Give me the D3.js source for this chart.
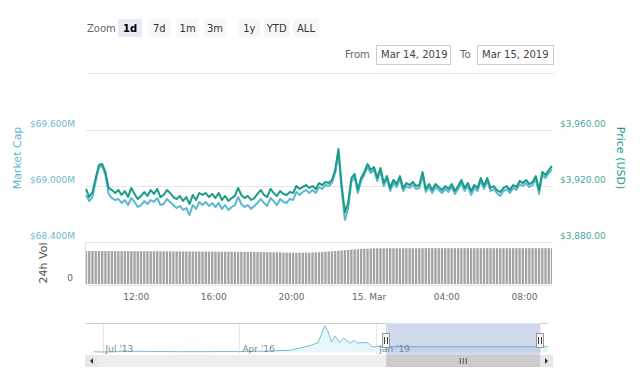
<!DOCTYPE html>
<html><head><meta charset="utf-8">
<script src="https://cdn.jsdelivr.net/npm/d3@7"></script>
<style>body{margin:0;background:#fff;} svg{display:block;font-family:"DejaVu Sans",Verdana,sans-serif;}</style>
</head><body><svg id="c" width="640" height="380"></svg>
<script>
// ---------- data ----------
const startTime = Date.UTC(2019, 2, 14, 9, 25);
const stepMinutes = 10;
const priceUSD = [3917.9,3912.1,3915.7,3925.7,3935.0,3935.7,3930.0,3918.6,3917.1,3915.0,
 3917.1,3913.6,3916.4,3912.1,3918.6,3914.3,3910.7,3912.9,3915.7,3912.9,
 3917.1,3914.3,3917.9,3912.1,3913.6,3917.1,3915.0,3912.1,3910.7,3912.9,
 3909.3,3912.1,3907.1,3913.6,3910.0,3915.0,3913.6,3915.0,3912.1,3914.3,
 3911.4,3915.0,3910.0,3912.9,3909.3,3911.4,3912.9,3918.6,3913.6,3911.4,
 3912.9,3910.0,3911.4,3914.3,3917.1,3913.6,3912.1,3917.9,3915.0,3912.9,
 3916.4,3914.3,3913.6,3915.7,3915.0,3920.0,3917.9,3919.3,3920.7,3918.6,
 3920.0,3917.9,3922.1,3920.7,3922.9,3922.1,3924.3,3931.4,3946.4,3920.7,
 3901.4,3907.9,3925.7,3928.6,3917.1,3925.7,3930.0,3935.7,3931.4,3933.6,
 3925.7,3932.9,3922.1,3927.1,3918.6,3924.3,3921.4,3927.1,3918.6,3922.1,
 3920.7,3922.9,3920.0,3920.7,3930.0,3917.9,3921.4,3917.1,3921.4,3919.3,
 3917.1,3920.0,3917.9,3921.4,3916.4,3920.0,3924.3,3918.6,3922.1,3916.4,
 3920.7,3918.6,3925.7,3920.0,3925.7,3918.6,3920.0,3917.1,3915.7,3918.6,
 3920.0,3917.1,3920.7,3919.3,3923.6,3922.1,3924.3,3921.4,3922.9,3927.1,
 3917.1,3930.0,3927.9,3931.4,3934.3];
const marketCapM = [68904,68839,68882,69054,69204,69214,69118,68914,68871,68850,
 68861,68818,68850,68796,68871,68829,68775,68796,68839,68807,
 68850,68829,68871,68796,68807,68861,68829,68796,68764,68786,
 68743,68764,68689,68796,68754,68829,68796,68829,68786,68818,
 68775,68818,68754,68796,68743,68775,68796,68882,68807,68775,
 68796,68754,68786,68818,68861,68818,68786,68871,68839,68796,
 68861,68829,68818,68861,68850,68936,68904,68936,68957,68925,
 68957,68925,68989,68968,69011,69000,69032,69139,69354,68957,
 68636,68754,69043,69096,68925,69054,69118,69204,69139,69171,
 69054,69161,69000,69075,68946,69032,68989,69075,68946,69000,
 68979,69011,68968,68979,69118,68936,68989,68925,68989,68957,
 68925,68968,68936,68989,68914,68968,69032,68946,69000,68904,
 68979,68946,69054,68968,69054,68946,68968,68925,68893,68946,
 68968,68925,68979,68957,69021,69000,69032,68989,69011,69075,
 68914,69118,69086,69139,69182];
const volumeM = [9420,9410,9430,9420,9400,9410,9420,9400,9390,9400,
 9390,9380,9390,9380,9370,9380,9370,9360,9370,9360,
 9350,9340,9350,9340,9330,9320,9330,9320,9310,9300,
 9300,9290,9280,9290,9280,9270,9260,9270,9260,9250,
 9240,9230,9220,9230,9220,9210,9200,9190,9180,9170,
 9160,9150,9140,9130,9120,9110,9100,9090,9080,9060,
 9040,8960,8950,8940,8940,8930,8940,8950,8960,8980,
 9010,9050,9100,9160,9220,9290,9360,9430,9510,9590,
 9670,9750,9830,9900,9960,10020,10070,10110,10150,10180,
 10200,10210,10220,10230,10230,10240,10240,10250,10250,10250,
 10250,10260,10250,10260,10250,10260,10260,10250,10260,10260,
 10260,10250,10260,10260,10250,10260,10250,10260,10260,10250,
 10260,10250,10260,10250,10260,10260,10250,10260,10250,10260,
 10260,10250,10260,10260,10250,10260,10250,10260,10260,10250,
 10260,10250,10260,10250,10260];
const priceTicks = [3880, 3920, 3960];
const capTicks = [68400, 69000, 69600];
const volTicks = [0];
const timeTicks = [Date.UTC(2019,2,14,12), Date.UTC(2019,2,14,16), Date.UTC(2019,2,14,20),
                   Date.UTC(2019,2,15,0), Date.UTC(2019,2,15,4), Date.UTC(2019,2,15,8)];
const timeTickLabels = ["12:00", "16:00", "20:00", "15. Mar", "04:00", "08:00"];
const zoomButtons = ["1d", "7d", "1m", "3m", "1y", "YTD", "ALL"];
const selectedZoom = "1d";
const fromLabel = "Mar 14, 2019", toLabel = "Mar 15, 2019";
// navigator: total market cap history (billions USD)
const navDates = ["2013-04-28","2013-07-01","2013-10-01","2013-12-01","2014-02-01","2014-06-01","2015-01-01",
 "2015-08-01","2016-01-01","2016-04-01","2016-10-01","2017-01-01","2017-04-01","2017-06-15","2017-09-01",
 "2017-11-01","2017-12-17","2018-01-10","2018-02-06","2018-03-05","2018-04-06","2018-05-05","2018-06-25",
 "2018-07-25","2018-08-15","2018-09-20","2018-11-01","2018-11-25","2018-12-15","2019-01-01","2019-03-15",
 "2020-01-01","2021-01-01","2022-06-15"];
const navCapB = [1.5,1.0,2,12,9,7,4,4,6,6.5,10,16,20,45,75,110,310,250,120,190,110,165,105,140,105,110,110,70,58,66,64,62,62,62];
const navTicks = ["2013-07-01","2016-04-01","2019-01-01"];
const navTickLabels = ["Jul '13", "Apr '16", "Jan '19"];
const navSelection = ["2019-03-14", "2022-04-20"];

// ---------- layout ----------
const svg = d3.select("#c");
const L = 86, R = 552;
const times = priceUSD.map((_, i) => new Date(startTime + i * stepMinutes * 60000));
const x = d3.scaleUtc().domain([times[0], times[times.length - 1]]).range([L, R]);
const yPrice = d3.scaleLinear().domain([3880, 3960]).range([242, 130]);
const yCap = d3.scaleLinear().domain([68400, 69600]).range([242, 130]);
const yVol = d3.scaleLinear().domain([0, 12000]).range([284, 242]);

const capFmt = v => "$" + d3.format(",")(v).replace(/,/g, ".") + "M";
const priceFmt = d3.format("$,.2f");

const cPrice = "#1d9a86", cCap = "#5cb8d2";

// ---------- range selector ----------
const rs = svg.append("g").attr("font-size", 10);
rs.append("text").attr("x", 87).attr("y", 32).attr("fill", "#666").text("Zoom");
const btnCenters = d3.scalePoint().domain(zoomButtons).range([130, 306]);
const btnW = {"1d": 24, "7d": 22, "1m": 22, "3m": 22, "1y": 22, "YTD": 26, "ALL": 26};
const btnAdj = {"1d": 0, "7d": 0, "1m": -1, "3m": -3, "1y": 2, "YTD": 0, "ALL": 0};
zoomButtons.forEach(b => {
  const cx = btnCenters(b) + btnAdj[b];
  rs.append("rect").attr("x", cx - btnW[b] / 2).attr("y", 19).attr("width", btnW[b]).attr("height", 18)
    .attr("fill", b === selectedZoom ? "#e6ebf5" : "#f7f7f7");
  rs.append("text").attr("x", cx).attr("y", 32).attr("text-anchor", "middle")
    .attr("fill", b === selectedZoom ? "#000" : "#333").attr("font-weight", b === selectedZoom ? "bold" : "normal").text(b);
});
rs.append("text").attr("x", 345).attr("y", 58).attr("fill", "#666").text("From");
rs.append("rect").attr("x", 376.5).attr("y", 45.5).attr("width", 74).attr("height", 19).attr("fill", "#fff").attr("stroke", "#ccc");
rs.append("text").attr("x", 381).attr("y", 58).attr("fill", "#444").text(fromLabel);
rs.append("text").attr("x", 460).attr("y", 58).attr("fill", "#666").text("To");
rs.append("rect").attr("x", 477.5).attr("y", 45.5).attr("width", 76).attr("height", 19).attr("fill", "#fff").attr("stroke", "#ccc");
rs.append("text").attr("x", 482).attr("y", 58).attr("fill", "#444").text(toLabel);
svg.append("line").attr("x1", 87).attr("x2", 555).attr("y1", 73.5).attr("y2", 73.5).attr("stroke", "#e6e6e6");

// ---------- grid ----------
svg.append("g").selectAll("line").data(priceTicks).join("line")
  .attr("x1", L).attr("x2", R).attr("y1", d => Math.round(yPrice(d)) + 0.5).attr("y2", d => Math.round(yPrice(d)) + 0.5)
  .attr("stroke", "#e6e6e6");

// ---------- axes labels ----------
const gl = svg.append("g").attr("font-size", 9);
gl.selectAll("text").data(capTicks).join("text")
  .attr("x", 75).attr("y", d => yCap(d) - 3).attr("text-anchor", "end").attr("fill", "#6fb6ce").text(capFmt);
const gr = svg.append("g").attr("font-size", 9);
gr.selectAll("text").data(priceTicks).join("text")
  .attr("x", 560).attr("y", d => yPrice(d) - 3).attr("fill", "#4aa596").text(priceFmt);
svg.append("text").attr("transform", "translate(21,158) rotate(-90)").attr("text-anchor", "middle")
  .attr("font-size", 11).attr("fill", "#5fb4d0").text("Market Cap");
svg.append("text").attr("transform", "translate(617,158) rotate(90)").attr("text-anchor", "middle")
  .attr("font-size", 11).attr("fill", "#1e9a86").text("Price (USD)");
svg.append("text").attr("transform", "translate(47,263) rotate(-90)").attr("text-anchor", "middle")
  .attr("font-size", 11).attr("fill", "#555").text("24h Vol");
svg.append("g").attr("font-size", 9).selectAll("text").data(volTicks).join("text")
  .attr("x", 73).attr("y", d => yVol(d) - 3).attr("text-anchor", "end").attr("fill", "#666").text(d => d);

// ---------- lines ----------
const capLine = d3.line().x((d, i) => x(times[i])).y(d => yCap(d)).curve(d3.curveLinear);
const priceLine = d3.line().x((d, i) => x(times[i])).y(d => yPrice(d)).curve(d3.curveLinear);
svg.append("path").attr("d", capLine(marketCapM)).attr("fill", "none").attr("stroke", cCap).attr("stroke-width", 2).attr("stroke-linejoin", "round");
svg.append("path").attr("d", priceLine(priceUSD)).attr("fill", "none").attr("stroke", cPrice).attr("stroke-width", 2).attr("stroke-linejoin", "round");

// ---------- volume ----------
svg.append("line").attr("x1", L - 0.5).attr("x2", L - 0.5).attr("y1", 242).attr("y2", 285).attr("stroke", "#e0e0e0");
const step = x(times[1]) - x(times[0]);
const bw = step * 0.72;
svg.append("defs").append("clipPath").attr("id", "vclip").append("rect").attr("x", L).attr("y", 240).attr("width", R - L).attr("height", 50);
svg.append("g").attr("clip-path", "url(#vclip)").selectAll("rect").data(volumeM).join("rect")
  .attr("x", (d, i) => x(times[i]) - bw / 2).attr("width", bw)
  .attr("y", d => yVol(d)).attr("height", d => yVol(0) - yVol(d)).attr("fill", "#a3a3a3");
svg.append("line").attr("x1", L).attr("x2", R).attr("y1", 285.5).attr("y2", 285.5).attr("stroke", "#e6e6e6");

// x axis labels
svg.append("g").attr("font-size", 9).selectAll("text").data(timeTicks).join("text")
  .attr("x", d => x(new Date(d))).attr("y", 300).attr("text-anchor", "middle").attr("fill", "#666")
  .text((d, i) => timeTickLabels[i]);

// ---------- navigator ----------
const nx = d3.scaleUtc().domain([new Date("2013-03-01"), new Date("2022-06-15")]).range([86, 548]);
const ny = d3.scaleLinear().domain([0, 330]).range([352, 324]);
const nd = navDates.map(d => new Date(d));
svg.append("g").selectAll("line").data(navTicks).join("line")
  .attr("x1", d => Math.round(nx(new Date(d))) + 0.5).attr("x2", d => Math.round(nx(new Date(d))) + 0.5)
  .attr("y1", 324).attr("y2", 354).attr("stroke", "#e6e6e6");
svg.append("path").attr("d", d3.area().x((d, i) => nx(nd[i])).y0(352).y1(d => ny(d))(navCapB)).attr("fill", "#e8f5f9");
svg.append("path").attr("d", d3.line().x((d, i) => nx(nd[i])).y(d => ny(d))(navCapB)).attr("fill", "none").attr("stroke", "#74bfd6").attr("stroke-width", 1);
svg.append("g").attr("font-size", 9).selectAll("text").data(navTicks).join("text")
  .attr("x", d => nx(new Date(d)) + 3).attr("y", 352).attr("fill", "#888").text((d, i) => navTickLabels[i]);
const s0 = nx(new Date(navSelection[0])), s1 = nx(new Date(navSelection[1]));
svg.append("rect").attr("x", s0).attr("y", 324).attr("width", s1 - s0).attr("height", 31).attr("fill", "rgba(102,133,194,0.3)");
svg.append("path").attr("d", `M86,323.5H${s0}M${s1},323.5H548`).attr("stroke", "#ccc").attr("fill", "none");
svg.append("path").attr("d", `M${s0},323.5H${s1}`).attr("stroke", "#dde3ee").attr("fill", "none");
[s0, s1].forEach(hx => {
  const g = svg.append("g").attr("transform", `translate(${Math.round(hx)},0)`);
  g.append("rect").attr("x", -3.5).attr("y", 333.5).attr("width", 7).attr("height", 14).attr("fill", "#f2f2f2").attr("stroke", "#999");
  g.append("path").attr("d", "M-1.5,337V344M1.5,337V344").attr("stroke", "#444");
});

// scrollbar
const sbY = 355, sbH = 12, sbL = 85, sbR = 553;
svg.append("rect").attr("x", sbL).attr("y", sbY).attr("width", sbR - sbL).attr("height", sbH).attr("fill", "#eeeeee");
svg.append("rect").attr("x", s0).attr("y", sbY).attr("width", s1 - s0).attr("height", sbH).attr("fill", "#cccccc");
const mid = (s0 + s1) / 2;
svg.append("path").attr("d", `M${mid - 3},${sbY + 3}V${sbY + 9}M${mid},${sbY + 3}V${sbY + 9}M${mid + 3},${sbY + 3}V${sbY + 9}`).attr("stroke", "#555");
[[sbL, "l"], [sbR - 13, "r"]].forEach(([bx, dir]) => {
  svg.append("rect").attr("x", bx).attr("y", sbY).attr("width", 13).attr("height", sbH).attr("fill", "#e6e6e6");
  const cx = bx + 6.5, cy = sbY + 6;
  svg.append("path").attr("d", dir === "l" ? `M${cx + 1.5},${cy - 3}L${cx - 1.5},${cy}L${cx + 1.5},${cy + 3}Z` : `M${cx - 1.5},${cy - 3}L${cx + 1.5},${cy}L${cx - 1.5},${cy + 3}Z`).attr("fill", "#333");
});
</script></body></html>
